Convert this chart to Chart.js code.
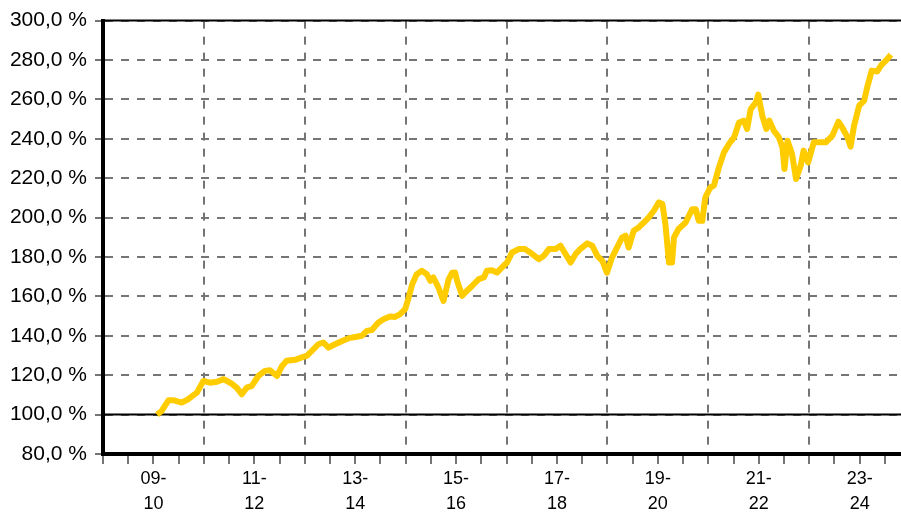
<!DOCTYPE html>
<html>
<head>
<meta charset="utf-8">
<script src="https://cdn.jsdelivr.net/npm/chart.js@4"></script>
<style>
  html, body { margin: 0; padding: 0; background: #fff; }
  #wrap { width: 901px; height: 513px; }
</style>
</head>
<body>
<div id="wrap"><canvas id="chart" width="901" height="513"></canvas></div>
<script>
/* ===== DATA (decimal year, value in %) ===== */
const dates = [
  2010.07, 2010.16, 2010.30, 2010.39, 2010.56, 2010.69, 2010.86, 2010.99, 2011.12, 2011.26,
  2011.39, 2011.55, 2011.65, 2011.75, 2011.85, 2011.95, 2012.08, 2012.21, 2012.31, 2012.45,
  2012.55, 2012.64, 2012.81, 2012.97, 2013.04, 2013.14, 2013.27, 2013.37, 2013.47, 2013.60,
  2013.74, 2013.87, 2014.00, 2014.13, 2014.23, 2014.33, 2014.46, 2014.56, 2014.69, 2014.79,
  2014.89, 2014.99, 2015.06, 2015.13, 2015.22, 2015.32, 2015.42, 2015.49, 2015.55, 2015.65,
  2015.75, 2015.85, 2015.92, 2015.98, 2016.02, 2016.12, 2016.18, 2016.32, 2016.45, 2016.55,
  2016.61, 2016.71, 2016.81, 2016.91, 2017.01, 2017.11, 2017.24, 2017.37, 2017.51, 2017.64,
  2017.74, 2017.84, 2017.97, 2018.07, 2018.17, 2018.27, 2018.37, 2018.46, 2018.60, 2018.70,
  2018.80, 2018.90, 2018.99, 2019.09, 2019.19, 2019.29, 2019.36, 2019.42, 2019.52, 2019.62,
  2019.72, 2019.82, 2019.92, 2020.02, 2020.09, 2020.15, 2020.22, 2020.28, 2020.32, 2020.41,
  2020.55, 2020.68, 2020.75, 2020.81, 2020.88, 2020.94, 2021.04, 2021.11, 2021.21, 2021.31,
  2021.41, 2021.51, 2021.61, 2021.70, 2021.77, 2021.84, 2021.94, 2021.99, 2022.07, 2022.15,
  2022.21, 2022.30, 2022.40, 2022.47, 2022.51, 2022.57, 2022.66, 2022.74, 2022.83, 2022.89,
  2022.98, 2023.09, 2023.19, 2023.33, 2023.46, 2023.58, 2023.66, 2023.76, 2023.82, 2023.89,
  2023.99, 2024.09, 2024.15, 2024.24, 2024.35, 2024.42, 2024.52, 2024.62
];
const values = [
  100.0, 101.8, 107.3, 107.3, 106.1, 107.8, 111.1, 117.1, 116.2, 116.7,
  118.0, 115.7, 113.7, 110.3, 113.7, 114.6, 119.6, 122.2, 122.5, 119.6,
  124.7, 127.3, 127.8, 129.3, 129.8, 132.3, 135.7, 136.6, 134.0, 135.7,
  137.4, 138.8, 139.4, 140.0, 142.5, 142.9, 146.7, 148.4, 149.8, 149.6,
  151.0, 153.5, 159.4, 166.2, 171.3, 173.0, 171.3, 167.9, 169.6, 164.5,
  157.7, 168.5, 172.0, 172.1, 167.9, 160.3, 162.0, 165.4, 168.8, 169.6,
  173.0, 173.3, 172.1, 174.7, 177.2, 182.3, 184.0, 184.0, 181.5, 178.9,
  180.6, 184.0, 184.0, 185.7, 181.5, 177.2, 181.5, 184.0, 186.9, 185.7,
  180.6, 178.0, 172.0, 179.7, 184.8, 189.9, 190.8, 184.8, 193.3, 195.0,
  197.5, 200.1, 203.5, 207.7, 206.9, 196.7, 177.2, 177.2, 189.9, 194.2,
  197.5, 204.3, 204.3, 198.4, 198.4, 210.2, 215.3, 216.2, 225.5, 233.1,
  237.4, 240.7, 248.3, 249.2, 245.0, 255.1, 258.3, 262.4, 251.7, 245.0,
  249.2, 244.1, 240.7, 235.6, 224.7, 239.0, 232.3, 219.6, 226.3, 234.0,
  228.0, 238.2, 238.2, 238.2, 241.6, 248.7, 245.5, 240.7, 236.0, 246.7,
  256.8, 259.4, 266.1, 274.6, 274.2, 277.1, 279.7, 282.7
];

/* axis ranges + labels */
const X_MIN = 2009;
const X_MAX = 2024.82;
const Y_MIN = 80;
const Y_MAX = 300;
const labelYears = [2010, 2012, 2014, 2016, 2018, 2020, 2022, 2024];
const periodLabels = [["09-", "10"], ["11-", "12"], ["13-", "14"], ["15-", "16"],
                      ["17-", "18"], ["19-", "20"], ["21-", "22"], ["23-", "24"]];
const gridYears = [2011, 2013, 2015, 2017, 2019, 2021, 2023];
const refLines = [100, 300];

const FONT = "'Liberation Sans', Arial, sans-serif";
const GRID = "#757575";

const near = (a, b) => Math.abs(a - b) < 1e-6;

const datasets = [{
  data: dates.map((d, i) => ({ x: d, y: values[i] })),
  borderColor: "#FFCC00",
  borderWidth: 6,
  borderJoinStyle: "round",
  pointRadius: 0,
  tension: 0,
  fill: false
}];
refLines.forEach(v => datasets.push({
  data: [{ x: X_MIN, y: v }, { x: X_MAX, y: v }],
  borderColor: "#000",
  borderWidth: 2,
  pointRadius: 0,
  clip: false
}));

new Chart(document.getElementById("chart"), {
  type: "line",
  data: { datasets },
  options: {
    responsive: false,
    animation: false,
    layout: { padding: { top: 20, right: 0, bottom: 0, left: 0 } },
    plugins: { legend: { display: false }, tooltip: { enabled: false } },
    scales: {
      x: {
        type: "linear",
        min: X_MIN,
        max: X_MAX,
        afterBuildTicks: s => {
          const t = [];
          for (let v = X_MIN; v <= X_MAX; v += 0.5) t.push({ value: v });
          s.ticks = t;
        },
        afterFit: s => { s.height = 59; },
        grid: {
          color: c => gridYears.some(y => near(y, c.tick.value)) ? GRID : "rgba(0,0,0,0)",
          lineWidth: 2,
          tickColor: GRID,
          tickWidth: 2,
          tickLength: 10
        },
        border: { color: "#000", width: 4, dash: [8, 8] },
        ticks: {
          autoSkip: false,
          maxRotation: 0,
          padding: 2,
          color: "#000",
          font: { family: FONT, size: 18, lineHeight: 1.4 },
          callback: v => {
            const i = labelYears.findIndex(y => near(y, v));
            return i >= 0 ? periodLabels[i] : "";
          }
        }
      },
      y: {
        min: Y_MIN,
        max: Y_MAX,
        afterFit: s => { s.width = 103; },
        grid: {
          color: GRID,
          lineWidth: 2,
          tickColor: GRID,
          tickWidth: 2,
          tickLength: 8
        },
        border: { color: "#000", width: 4, dash: [8, 8] },
        ticks: {
          stepSize: 20,
          padding: 8,
          color: "#000",
          font: { family: FONT, size: 21 },
          callback: v => v.toFixed(1).replace(".", ",") + " %"
        }
      }
    }
  }
});
</script>
</body>
</html>
